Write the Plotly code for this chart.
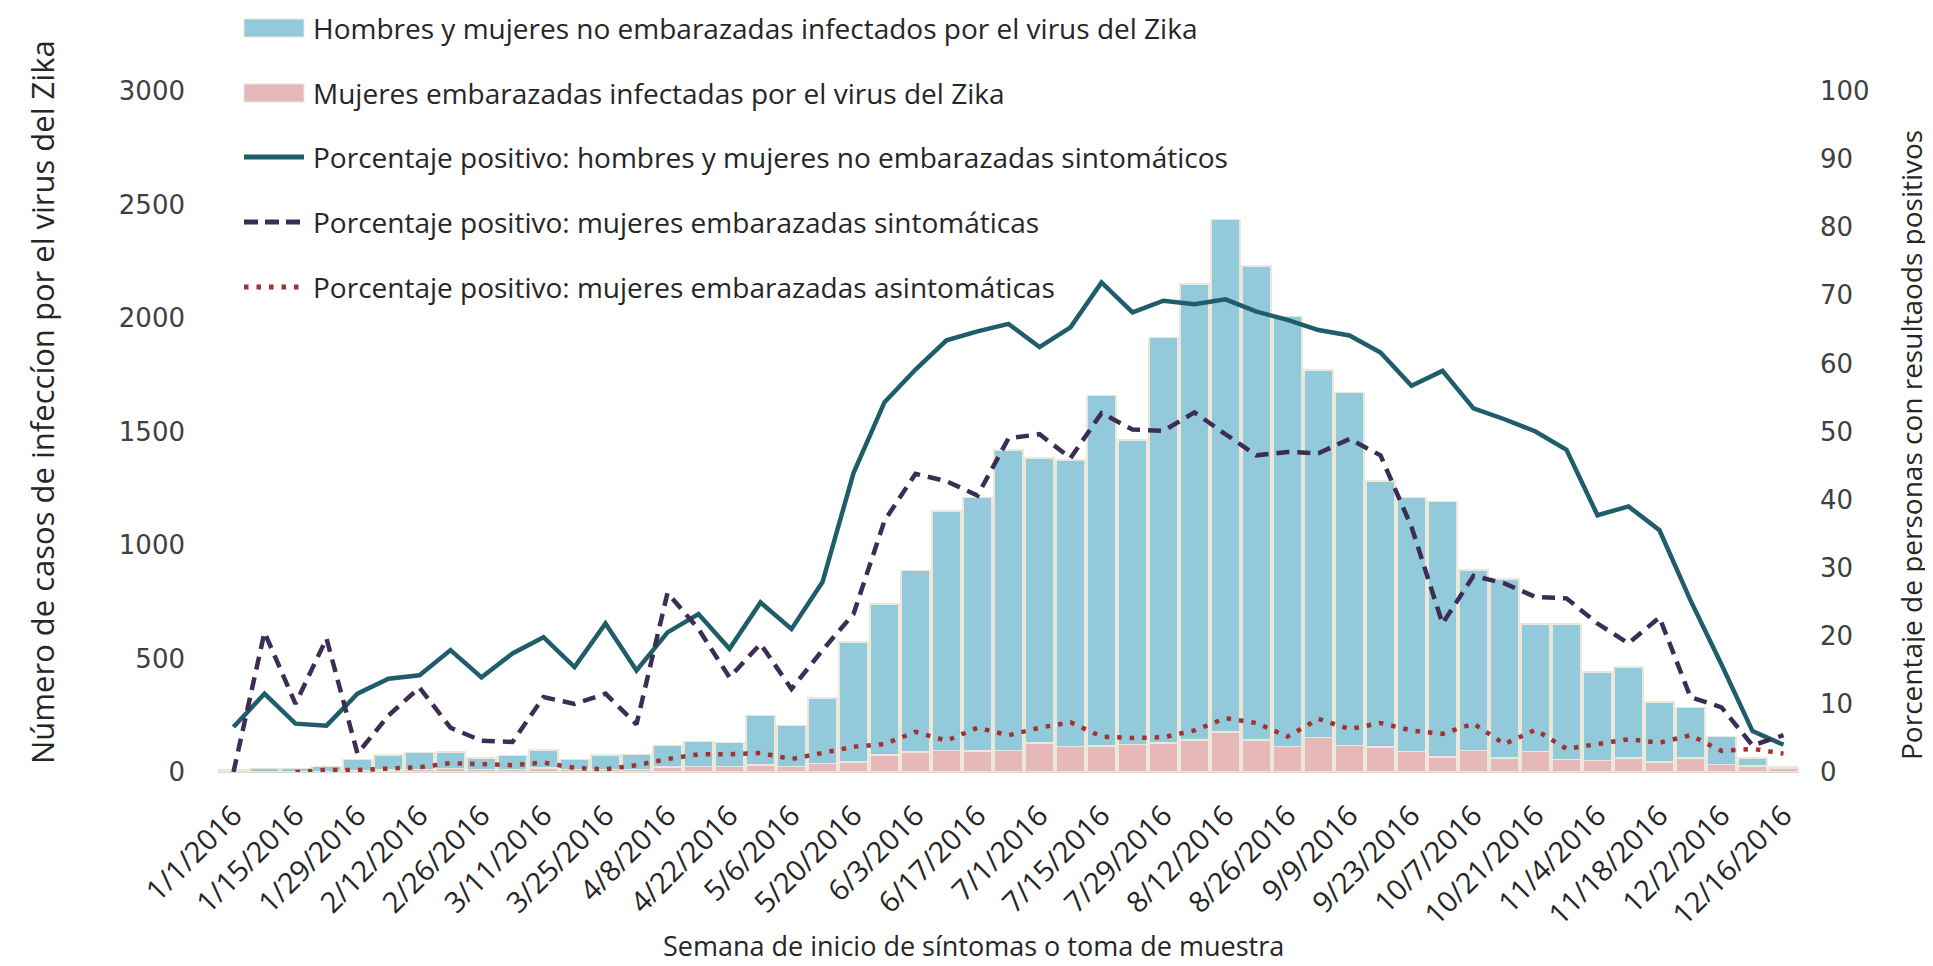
import plotly.graph_objects as go

weeks = ["1/1/2016", "1/8/2016", "1/15/2016", "1/22/2016", "1/29/2016", "2/5/2016", "2/12/2016",
         "2/19/2016", "2/26/2016", "3/4/2016", "3/11/2016", "3/18/2016", "3/25/2016", "4/1/2016",
         "4/8/2016", "4/15/2016", "4/22/2016", "4/29/2016", "5/6/2016", "5/13/2016", "5/20/2016",
         "5/27/2016", "6/3/2016", "6/10/2016", "6/17/2016", "6/24/2016", "7/1/2016", "7/8/2016",
         "7/15/2016", "7/22/2016", "7/29/2016", "8/5/2016", "8/12/2016", "8/19/2016", "8/26/2016",
         "9/2/2016", "9/9/2016", "9/16/2016", "9/23/2016", "9/30/2016", "10/7/2016", "10/14/2016",
         "10/21/2016", "10/28/2016", "11/4/2016", "11/11/2016", "11/18/2016", "11/25/2016",
         "12/2/2016", "12/9/2016", "12/16/2016"]

tick_labels = weeks[::2]

# cases: pregnant women (pink, bottom of stack)
pregnant_cases = [0, 0, 2, 3, 5, 8, 10, 15, 12, 12, 18, 10, 10, 12, 22, 25, 25, 30, 25, 37,
                  44, 76, 88, 95, 92, 95, 128, 113, 114, 122, 128, 142, 176, 142, 113, 151, 117,
                  110, 91, 66, 95, 62, 91, 56, 51, 62, 44, 62, 34, 26, 17]

# cases: non-pregnant men and women (blue, stacked on top)
nonpregnant_cases = [8, 15, 13, 22, 49, 68, 75, 73, 50, 61, 80, 44, 65, 66, 95, 110, 106, 219,
                     179, 288, 528, 665, 800, 1054, 1118, 1323, 1255, 1262, 1544, 1341, 1787,
                     2007, 2257, 2086, 1894, 1621, 1555, 1171, 1119, 1126, 795, 789, 562, 597,
                     389, 400, 264, 223, 122, 36, 5]

# percent positive
pct_nonpreg_sympt = [6.6, 11.5, 7.1, 6.8, 11.5, 13.7, 14.2, 17.9, 13.9, 17.4, 19.8, 15.4, 21.8,
                     14.9, 20.5, 23.2, 18.1, 24.9, 21.0, 27.9, 43.9, 54.3, 59.1, 63.4, 64.7,
                     65.8, 62.4, 65.3, 71.9, 67.5, 69.2, 68.7, 69.4, 67.6, 66.4, 64.9, 64.1,
                     61.6, 56.7, 58.9, 53.4, 51.8, 50.0, 47.3, 37.7, 39.0, 35.5, 25.2, 15.8,
                     6.0, 4.0]

pct_preg_sympt = [0.0, 20.5, 10.0, 19.6, 2.7, 8.3, 12.4, 6.5, 4.6, 4.4, 11.0, 10.0, 11.5, 7.0,
                  26.3, 21.0, 13.9, 18.8, 12.2, 17.9, 23.2, 36.9, 43.8, 42.7, 40.6, 49.0, 49.6,
                  46.1, 52.7, 50.3, 50.1, 52.8, 49.6, 46.5, 47.0, 46.8, 48.9, 46.5, 36.0, 21.8,
                  28.8, 27.7, 25.7, 25.5, 21.8, 18.9, 22.7, 11.0, 9.5, 3.9, 5.4]

pct_preg_asympt = [None, None, 0.0, 0.3, 0.3, 0.5, 0.7, 1.3, 1.2, 1.0, 1.4, 0.6, 0.4, 1.0, 1.9,
                   2.6, 2.6, 2.8, 1.9, 2.8, 3.7, 4.1, 5.9, 4.6, 6.5, 5.4, 6.5, 7.3, 5.2, 5.0,
                   5.1, 6.1, 7.9, 7.2, 5.2, 7.8, 6.3, 7.2, 6.1, 5.6, 7.1, 4.1, 6.2, 3.4, 4.1,
                   4.8, 4.3, 5.4, 3.1, 3.4, 2.7]

series_names = [
    "Hombres y mujeres no embarazadas infectados por el virus del Zika",
    "Mujeres embarazadas infectadas por el virus del Zika",
    "Porcentaje positivo: hombres y mujeres no embarazadas sintomáticos",
    "Porcentaje positivo: mujeres embarazadas sintomáticas",
    "Porcentaje positivo: mujeres embarazadas asintomáticas",
]

BLUE = "#93cadb"
PINK = "#e6b8b9"
TEAL = "#1f5d6a"
PURPLE = "#3d2c55"
RED = "#a03232"
EDGE = "#ebe7d9"
TXT = "#262626"

W, H = 1933, 966
ML, MR, MT, MB = 210, 142, 83, 202
PW, PH = W - ML - MR, H - MT - MB


def px(x):
    return (x - ML) / PW


def py(y):
    return (H - MB - y) / PH


fig = go.Figure()

fig.add_trace(go.Bar(
    x=weeks, y=pregnant_cases, name=series_names[1],
    marker=dict(color=PINK, line=dict(color=EDGE, width=1.5)), yaxis="y"))
fig.add_trace(go.Bar(
    x=weeks, y=nonpregnant_cases, name=series_names[0],
    marker=dict(color=BLUE, line=dict(color=EDGE, width=1.5)), yaxis="y"))

DASH_STYLE = "13px,8px"
DOT_STYLE = "4.5px,8px"

fig.add_trace(go.Scatter(
    x=weeks, y=pct_nonpreg_sympt, mode="lines", name=series_names[2],
    line=dict(color=TEAL, width=4.5), yaxis="y2"))
fig.add_trace(go.Scatter(
    x=weeks, y=pct_preg_sympt, mode="lines", name=series_names[3],
    line=dict(color=PURPLE, width=4.5, dash=DASH_STYLE), yaxis="y2"))
fig.add_trace(go.Scatter(
    x=weeks, y=pct_preg_asympt, mode="lines", name=series_names[4],
    line=dict(color=RED, width=4.5, dash=DOT_STYLE), yaxis="y2"))

# legend drawn as key swatches + text, laid out as in the original
row_y = [20, 85, 149, 214, 279]
sw_x0, sw_x1, text_x = 236, 296, 303
shapes = []
annotations = []
for k, (name, yy) in enumerate(zip(series_names, row_y)):
    if k < 2:
        shapes.append(dict(type="rect", xref="paper", yref="paper",
                           x0=px(sw_x0), x1=px(sw_x1), y0=py(yy + 9), y1=py(yy - 9),
                           fillcolor=[BLUE, PINK][k], line=dict(color=EDGE, width=1)))
    else:
        col = [TEAL, PURPLE, RED][k - 2]
        dash = ["solid", "14px,7px", DOT_STYLE][k - 2]
        shapes.append(dict(type="line", xref="paper", yref="paper",
                           x0=px(sw_x0), x1=px(sw_x1), y0=py(yy), y1=py(yy),
                           line=dict(color=col, width=5, dash=dash)))
    annotations.append(dict(text=name, xref="paper", yref="paper", x=px(text_x), y=py(yy),
                            xanchor="left", yanchor="middle", showarrow=False,
                            font=dict(family="Open Sans", size=28, color=TXT)))

annotations += [
    dict(text="Número de casos de infeccíon por el virus del Zika", textangle=-90,
         xref="paper", yref="paper", x=px(34), y=py(394), showarrow=False,
         xanchor="center", yanchor="middle",
         font=dict(family="Open Sans", size=31, color=TXT)),
    dict(text="Porcentaje de personas con resultaods positivos", textangle=-90,
         xref="paper", yref="paper", x=px(1903), y=py(437), showarrow=False,
         xanchor="center", yanchor="middle",
         font=dict(family="Open Sans", size=28, color=TXT)),
    dict(text="Semana de inicio de síntomas o toma de muestra",
         xref="paper", yref="paper", x=px(965), y=py(937), showarrow=False,
         xanchor="center", yanchor="middle",
         font=dict(family="Open Sans", size=27, color=TXT)),
]

TICK_FONT = dict(family="DejaVu Sans", size=26, color="#404040")

fig.update_layout(
    width=W, height=H,
    margin=dict(l=ML, r=MR, t=MT, b=MB),
    paper_bgcolor="white", plot_bgcolor="white",
    barmode="stack", bargap=0.07,
    showlegend=False,
    xaxis=dict(type="category", tickmode="array", tickvals=tick_labels, ticktext=tick_labels,
               tickangle=-45, tickfont=dict(family="Open Sans", size=29, color=TXT),
               showgrid=False, showline=True, linecolor="#dcd8cc", linewidth=1,
               ticks="", ticklabelstandoff=14, range=[-0.5, 50.5], automargin=False),
    yaxis=dict(range=[0, 3000], dtick=500, tickfont=TICK_FONT, showgrid=False,
               zeroline=False, showline=False, ticks="", ticklabelstandoff=32, automargin=False),
    yaxis2=dict(range=[0, 100], dtick=10, tickfont=TICK_FONT, overlaying="y", side="right",
                showgrid=False, zeroline=False, showline=False, ticks="", ticklabelstandoff=20,
                automargin=False),
    shapes=shapes,
    annotations=annotations,
)

fig.write_html("out.html")
